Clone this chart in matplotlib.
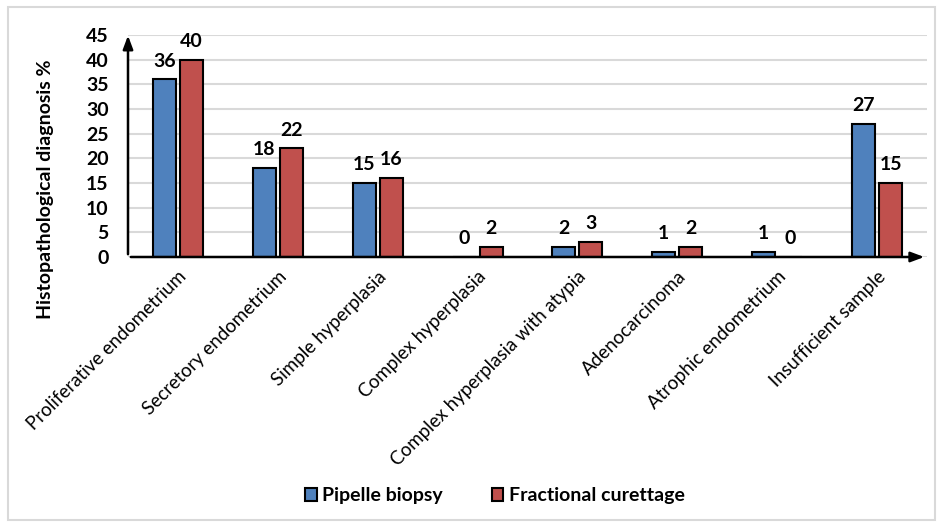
import matplotlib
matplotlib.use("Agg")
import matplotlib.pyplot as plt
import numpy as np
from matplotlib.patches import Rectangle

categories = ["Proliferative endometrium", "Secretory endometrium", "Simple hyperplasia",
              "Complex hyperplasia", "Complex hyperplasia with atypia", "Adenocarcinoma",
              "Atrophic endometrium", "Insufficient sample"]
pipelle = [36, 18, 15, 0, 2, 1, 1, 27]
fractional = [40, 22, 16, 2, 3, 2, 0, 15]
yticks = [0, 5, 10, 15, 20, 25, 30, 35, 40, 45]

plt.rcParams['font.family'] = ['Lato', 'DejaVu Sans']

fig = plt.figure(figsize=(9.43, 5.27), dpi=100)
fig.patches.append(Rectangle((8/943, 7/527), 927/943, 513/527, transform=fig.transFigure,
                             fill=False, edgecolor='#d9d9d9', linewidth=1.5))
ax = fig.add_axes([128/943, 1-257/527, 799/943, 222/527])

x = np.arange(len(categories))
w = 0.23
off = 0.135
blue = '#4f81bd'
red = '#c0504d'
b1 = ax.bar(x - off, pipelle, w, color=blue, edgecolor='black', linewidth=1.5, label='Pipelle biopsy', zorder=3)
b2 = ax.bar(x + off, fractional, w, color=red, edgecolor='black', linewidth=1.5, label='Fractional curettage', zorder=3)
for bars, vals in ((b1, pipelle), (b2, fractional)):
    for r, v in zip(bars, vals):
        ax.annotate(str(v), (r.get_x() + r.get_width()/2, v), xytext=(0, 7), textcoords='offset points',
                    ha='center', va='bottom', fontsize=14, fontweight='bold')

ax.set_xlim(-0.5, len(categories) - 0.5)
ax.set_ylim(0, 45)
ax.set_yticks(yticks)
ax.set_yticklabels([str(t) for t in yticks], fontsize=14, fontweight='bold')
ax.set_xticks(x)
ax.set_xticklabels(categories, rotation=45, ha='right', rotation_mode='anchor', fontsize=13.5)
ax.tick_params(axis='y', length=0, pad=14)
ax.tick_params(axis='x', length=0, pad=8)
ax.grid(axis='y', color='#d9d9d9', linewidth=1.5, zorder=0)
for s in ax.spines.values():
    s.set_visible(False)
ax.annotate('', xy=(1, 0), xytext=(0, 0), xycoords='axes fraction',
            arrowprops=dict(arrowstyle='-|>,head_length=0.8,head_width=0.3', color='black', lw=1.8), zorder=4)
ax.annotate('', xy=(0, 1.01), xytext=(0, 0), xycoords='axes fraction',
            arrowprops=dict(arrowstyle='-|>,head_length=0.8,head_width=0.3', color='black', lw=1.8), zorder=4)
ax.set_ylabel('Histopathological diagnosis %', fontsize=14, fontweight='bold')
ax.yaxis.set_label_coords(-(128-54)/799, (257-189)/222)

handles = [Rectangle((0, 0), 1, 1, facecolor=blue, edgecolor='black', lw=1.5),
           Rectangle((0, 0), 1, 1, facecolor=red, edgecolor='black', lw=1.5)]
fig.legend(handles, ['Pipelle biopsy', 'Fractional curettage'], loc='center', bbox_to_anchor=(495/943, 1-496/527),
           ncol=2, frameon=False, prop={'weight': 'bold', 'size': 14}, handlelength=0.6, handleheight=0.6,
           handletextpad=0.3, columnspacing=2.5)

fig.savefig('out.png', dpi=100)
